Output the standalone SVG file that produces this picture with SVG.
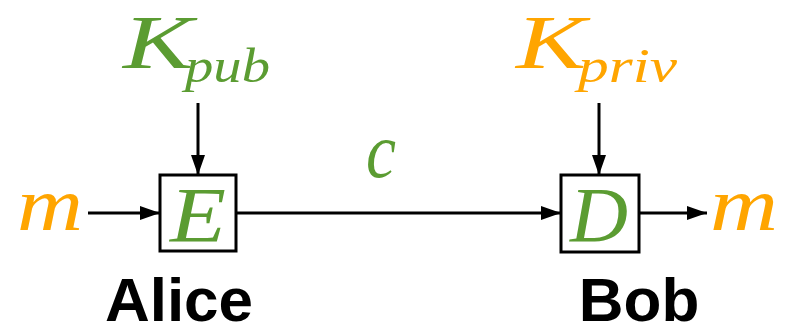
<svg xmlns="http://www.w3.org/2000/svg" width="791" height="328" viewBox="0 0 791 328">
<defs>
<style>
.m{font-family:"Liberation Serif","Times New Roman",serif;font-style:italic}
.g{fill:#5b9c32}
.o{fill:#ffa500}
.lbl{font-family:"Liberation Sans",Arial,sans-serif;font-weight:bold;font-size:62px;fill:#000}
.box{fill:#fff;stroke:#000;stroke-width:3}
.ln{stroke:#000;stroke-width:3;fill:none}
</style>
<marker id="a" viewBox="0 0 20 14" refX="20" refY="7" markerWidth="20" markerHeight="14" markerUnits="userSpaceOnUse" orient="auto">
<path d="M0,0 L20,7 L0,14 Z" fill="#000"/>
</marker>
</defs>
<g id="connectors">
<line class="ln" x1="88" y1="213" x2="160" y2="213" marker-end="url(#a)"/>
<line class="ln" x1="236" y1="213" x2="561" y2="213" marker-end="url(#a)"/>
<line class="ln" x1="639" y1="213" x2="707" y2="213" marker-end="url(#a)"/>
<line class="ln" x1="198" y1="103" x2="198" y2="175" marker-end="url(#a)"/>
<line class="ln" x1="599" y1="103" x2="599" y2="175" marker-end="url(#a)"/>
</g>
<g id="kpub">
<text class="m g" x="123" y="68" font-size="76" textLength="70" lengthAdjust="spacingAndGlyphs">K</text>
<text class="m g" x="185" y="82" font-size="48" textLength="85" lengthAdjust="spacingAndGlyphs">pub</text>
</g>
<g id="kpriv">
<text class="m o" x="516" y="68" font-size="76" textLength="70" lengthAdjust="spacingAndGlyphs">K</text>
<text class="m o" x="578" y="82" font-size="48" textLength="99" lengthAdjust="spacingAndGlyphs">priv</text>
</g>
<g id="m-in"><text class="m o" x="17" y="230" font-size="76" textLength="66" lengthAdjust="spacingAndGlyphs">m</text></g>
<g id="E">
<rect class="box" x="160" y="175" width="76" height="76"/>
<text class="m g" x="170" y="241" font-size="78" textLength="56" lengthAdjust="spacingAndGlyphs">E</text>
</g>
<g id="c-label"><text class="m g" x="366" y="177" font-size="78" textLength="30" lengthAdjust="spacingAndGlyphs">c</text></g>
<g id="D">
<rect class="box" x="561" y="175" width="78" height="77"/>
<text class="m g" x="570" y="241" font-size="78" textLength="58" lengthAdjust="spacingAndGlyphs">D</text>
</g>
<g id="m-out"><text class="m o" x="710" y="230" font-size="76" textLength="68" lengthAdjust="spacingAndGlyphs">m</text></g>
<g id="alice"><text class="lbl" x="179" y="321" text-anchor="middle">Alice</text></g>
<g id="bob"><text class="lbl" x="639" y="321" text-anchor="middle">Bob</text></g>
</svg>
